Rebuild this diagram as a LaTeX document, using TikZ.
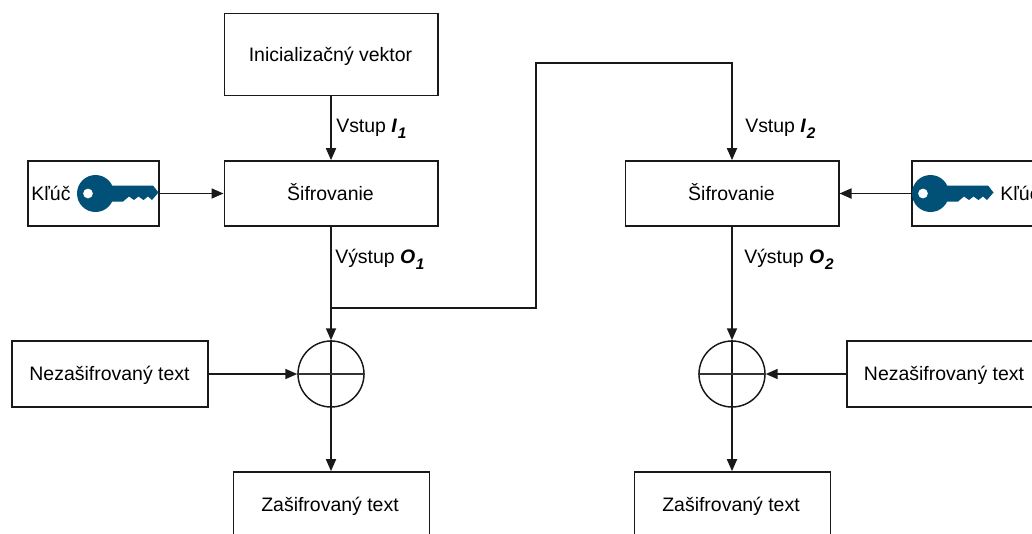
\documentclass[tikz,border=0pt]{standalone}
\usepackage{fontspec}
\setmainfont{Liberation Sans}
\usetikzlibrary{arrows.meta,calc}
\definecolor{keyblue}{HTML}{005078}
\newcommand{\vlabel}[2]{#1 \textbf{\textit{#2}}}
\newcommand{\sbs}[1]{\kern0.5pt\raisebox{-0.55ex}{\fontsize{11.5pt}{12pt}\selectfont\textbf{\textit{#1}}}}
\tikzset{
  x=0.75pt,y=-0.75pt,
  every node/.style={font=\fontsize{14.6pt}{17pt}\selectfont,text height=12pt,text depth=2.2pt},
  box/.style={draw=black!90,line width=1.25pt,rectangle,inner sep=0pt},
  xorc/.style={draw=black!90,line width=1.1pt,circle,minimum size=49.5pt,inner sep=0pt},
  conn/.style={draw=black!90,line width=1.3pt,-{Triangle[length=9pt,width=7.5pt]}},
  line/.style={draw=black!80,line width=1.25pt},
  lbl/.style={inner sep=0pt,anchor=west},
  txt/.style={inner sep=0pt},
}
\newcommand{\keyicon}[2]{%
  \begin{scope}[shift={(#1,#2)}]
  \fill[keyblue,even odd rule] (18.5,0) circle[radius=18.5] (11,0) circle[radius=5];
  \fill[keyblue] (30,-8) -- (76,-8) -- (81.5,-1) -- (75,6.5) -- (71,3) -- (66.5,6.5) -- (61.5,3) -- (57,6.5) -- (52,3) -- (46,8) -- (30,8) -- cycle;
  \end{scope}}
\begin{document}
\begin{tikzpicture}
\useasboundingbox (0,0) rectangle (1032,533);
\clip (0,0) rectangle (1032,533);
% boxes
\path
 node[box,minimum width=160pt,minimum height=61.5pt] (iv) at (331,54.5) {}
 node[box,minimum width=160pt,minimum height=48.75pt] (e1) at (331,193.5) {}
 node[box,minimum width=160pt,minimum height=48.75pt] (e2) at (732,193.5) {}
 node[box,minimum width=98pt,minimum height=48.75pt] (k1) at (93.5,193.5) {}
 node[box,minimum width=99pt,minimum height=48.75pt] (k2) at (978,193.5) {}
 node[box,minimum width=147pt,minimum height=49.5pt] (p1) at (110,374) {}
 node[box,minimum width=147pt,minimum height=49.5pt] (p2) at (945,374) {}
 node[box,minimum width=147pt,minimum height=51pt] (c1) at (331.5,506) {}
 node[box,minimum width=147pt,minimum height=51pt] (c2) at (732.5,506) {}
 node[xorc] (x1) at (331,374) {}
 node[xorc] (x2) at (732,374) {};
\node[txt] (tiv) at (330.5,54.5) {Inicializačný vektor};
\node[txt] (te1) at (330.5,193.5) {Šifrovanie};
\node[txt] (te2) at (731.5,193.5) {Šifrovanie};
\node[txt] (tp1) at (109.5,373.5) {Nezašifrovaný text};
\node[txt] (tp2) at (944,373.5) {Nezašifrovaný text};
\node[txt] (tc1) at (330,505) {Zašifrovaný text};
\node[txt] (tc2) at (731,505) {Zašifrovaný text};
% keys
\node[lbl] (kt1) at (31,193.5) {Kľúč};
\node[lbl] (kt2) at (1000,193.5) {Kľúč};
\keyicon{77}{193.5}
\keyicon{912}{193.5}
\coordinate (tip1) at (158.5,193.5);
% labels
\node[lbl] (l1) at (336,126) {\vlabel{Vstup}{I}\sbs{1}};
\node[lbl] (l2) at (745,126) {\vlabel{Vstup}{I}\sbs{2}};
\node[lbl] (l3) at (335,257) {\vlabel{Výstup}{O}\sbs{1}};
\node[lbl] (l4) at (744,257) {\vlabel{Výstup}{O}\sbs{2}};
% connectors
\draw[conn] (iv.south) -- (e1.north);
\draw[conn] (tip1) -- (e1.west);
\draw[conn] (k2.west) -- (e2.east);
\draw[conn] (e1.south) -- (x1.north);
\draw[conn] (e2.south) -- (x2.north);
\draw[conn] (p1.east) -- (x1.west);
\draw[conn] (p2.west) -- (x2.east);
\draw[conn] (x1.north) -- (x1.south) -- (c1.north -| x1.south);
\draw[conn] (x2.north) -- (x2.south) -- (c2.north -| x2.south);
\draw[line] (x1.west) -- (x1.east);
\draw[line] (x2.west) -- (x2.east);
\coordinate (b) at (331,308);
\coordinate (r1) at (536,308);
\coordinate (r2) at (536,63);
\coordinate (r3) at (732,63);
\draw[conn] (b) -- (r1) -- (r2) -- (r3) -- (e2.north);
\end{tikzpicture}
\end{document}
